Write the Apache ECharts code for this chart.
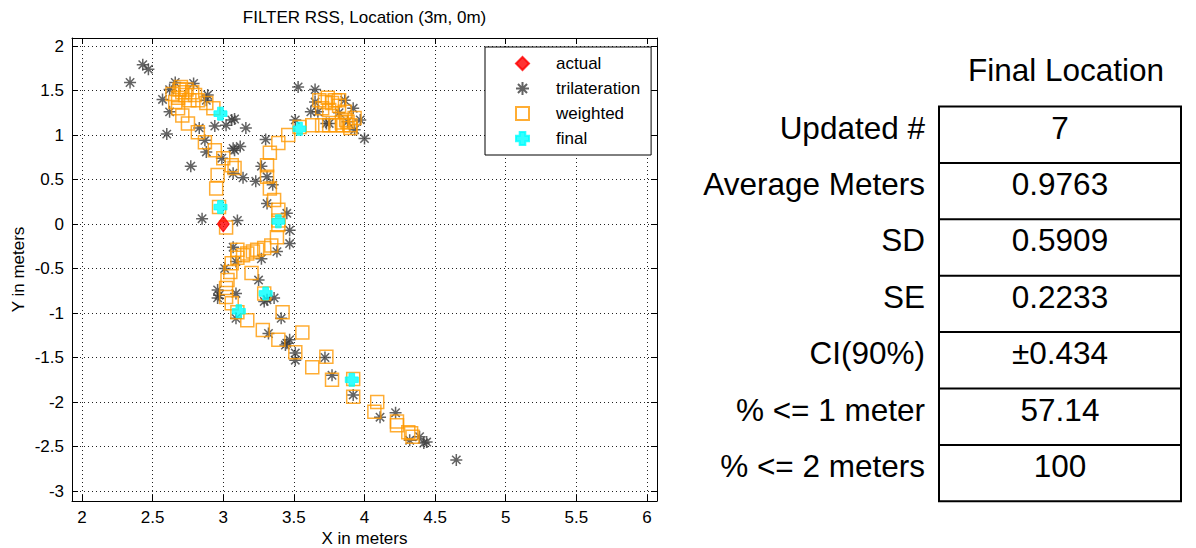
<!DOCTYPE html>
<html><head><meta charset="utf-8">
<script src="https://cdn.jsdelivr.net/npm/echarts@6/dist/echarts.min.js"></script>
<style>html,body{margin:0;padding:0;background:#fff}#c{width:1196px;height:548px}</style>
</head><body><div id="c"></div>
<script>
// ---------- data (meters) ----------
const xTicks = [2, 2.5, 3, 3.5, 4, 4.5, 5, 5.5, 6];
const yTicks = [-3, -2.5, -2, -1.5, -1, -0.5, 0, 0.5, 1, 1.5, 2];
const seriesNames = ['actual', 'trilateration', 'weighted', 'final'];
const actual = [[3, 0]];
const trilateration = [
  [2.43,1.79],[2.47,1.74],[2.34,1.59],[2.66,1.59],[2.62,1.51],[2.57,1.40],[2.62,1.26],[2.60,1.01],
  [2.77,0.65],[2.79,1.58],[2.89,1.45],[2.88,1.39],[2.94,1.10],[3.02,1.11],[3.06,1.17],[3.08,1.18],
  [3.16,1.08],[2.83,1.08],[2.87,0.94],[2.88,0.81],[3.07,0.85],[3.12,0.87],[2.99,0.74],[3.07,0.57],
  [3.14,0.52],[3.23,0.48],[3.27,0.65],[3.30,0.95],[3.35,0.44],[3.51,1.17],[3.53,1.54],[3.65,1.51],
  [3.65,1.37],[3.62,1.26],[3.67,1.26],[3.73,1.13],[3.75,1.13],[3.86,1.39],[3.92,1.30],[3.97,1.17],
  [3.93,1.06],[4.00,0.96],[3.82,1.25],[3.88,1.15],[3.08,0.83],[3.31,0.53],[3.31,0.23],[3.45,0.12],
  [3.47,-0.07],[3.10,0.04],[2.85,0.06],[3.47,-0.22],[3.38,-0.31],[3.27,-0.39],[3.07,-0.26],[3.09,-0.42],
  [3.01,-0.50],[2.96,-0.74],[2.96,-0.83],[2.97,-0.80],[3.09,-0.78],[3.25,-0.63],[3.36,-0.83],[3.31,-0.85],
  [3.09,-1.06],[3.41,-1.06],[3.32,-1.23],[3.45,-1.34],[3.51,-1.45],[3.29,-0.87],[3.47,-1.30],[3.44,-1.36],
  [3.51,-1.53],[3.72,-1.50],[3.77,-1.70],[3.92,-1.92],[4.11,-2.17],[4.22,-2.12],[4.32,-2.43],[4.39,-2.39],
  [4.42,-2.46],[4.44,-2.45],[4.65,-2.65]
];
const weighted = [
  [2.69,1.51],[2.74,1.51],[2.78,1.48],[2.73,1.45],[2.68,1.42],[2.76,1.39],[2.82,1.39],[2.68,1.30],
  [2.88,1.36],[2.93,1.30],[2.71,1.22],[2.75,1.13],[2.82,1.03],[2.87,0.92],[2.94,0.83],[3.00,0.74],
  [3.06,0.66],[3.08,0.63],[2.96,0.55],[2.95,0.40],[2.97,0.19],[2.66,1.37],[2.71,1.48],[2.80,1.45],
  [2.64,1.46],[2.70,1.54],
  [3.63,1.11],[3.54,1.09],[3.46,1.00],[3.39,0.91],[3.33,0.80],[3.31,0.66],[3.31,0.53],[3.33,0.40],
  [3.36,0.27],[3.39,0.16],[3.39,0.04],[3.39,-0.01],[3.38,-0.15],
  [3.70,1.11],[3.75,1.11],[3.80,1.11],[3.85,1.11],[3.90,1.11],[3.87,1.17],[3.93,1.19],[3.86,1.26],
  [3.82,1.33],[3.77,1.36],[3.72,1.37],[3.68,1.39],[3.74,1.42],[3.79,1.39],[3.82,1.39],[3.75,1.28],
  [3.70,1.30],[3.88,1.15],[3.90,1.08],[3.84,1.14],
  [3.34,-0.24],[3.29,-0.27],[3.24,-0.29],[3.21,-0.31],[3.17,-0.33],[3.14,-0.35],[3.10,-0.29],[3.10,-0.38],
  [3.06,-0.44],[3.05,-0.54],[3.03,-0.63],[3.02,-0.72],[3.02,-0.82],[3.06,-0.89],[3.10,-0.99],[3.17,-1.08],
  [3.28,-1.19],[3.39,-1.30],[3.51,-1.44],[3.20,-0.55],[3.29,-0.78],[3.42,-0.99],[3.56,-1.22],[3.63,-1.61],
  [3.73,-1.49],[3.77,-1.75],[3.92,-1.74],[3.92,-1.94],[4.09,-2.00],[4.07,-2.11],[4.23,-2.22],[4.23,-2.26],
  [4.31,-2.34],[4.33,-2.35],[4.34,-2.39],[3.02,-0.04]
];
const finalLoc = [[2.98,1.24],[3.54,1.07],[3.39,0.03],[3.30,-0.78],[3.11,-0.98],[3.91,-1.75],[2.98,0.19]];
const tableTitle = 'Final Location';
const tableLabels = ['Updated #', 'Average Meters', 'SD', 'SE', 'CI(90%)', '% <= 1 meter', '% <= 2 meters'];
const tableValues = ['7', '0.9763', '0.5909', '0.2233', '±0.434', '57.14', '100'];

// ---------- styling ----------
const FONT = '"Liberation Sans", Arial, Helvetica, sans-serif';
const AX_FS = 17;
const TB_FONT = '31.5px ' + FONT;
const ASTERISK = 'path://M0,-6L0,6M-6,0L6,0M-4.2,-4.2L4.2,4.2M-4.2,4.2L4.2,-4.2';
const FATPLUS = 'path://M-2.6,-6L2.6,-6L2.6,-2.6L6,-2.6L6,2.6L2.6,2.6L2.6,6L-2.6,6L-2.6,2.6L-6,2.6L-6,-2.6L-2.6,-2.6Z';

// table layout
const T = { left: 939, right: 1181, top: 106.5, rowH: 56.4, labelX: 925, valueX: 1060 };
const graphics = [];
graphics.push({ type: 'text', style: { text: tableTitle, x: 1066, y: 70, align: 'center', verticalAlign: 'middle', font: TB_FONT, fill: '#000' } });
graphics.push({ type: 'rect', shape: { x: T.left, y: T.top, width: T.right - T.left, height: T.rowH * tableLabels.length }, style: { fill: 'none', stroke: '#000', lineWidth: 2 } });
tableLabels.forEach((lab, i) => {
  const top = T.top + i * T.rowH;
  if (i > 0) graphics.push({ type: 'line', shape: { x1: T.left, y1: top, x2: T.right, y2: top }, style: { stroke: '#000', lineWidth: 2 } });
  graphics.push({ type: 'text', style: { text: lab, x: T.labelX, y: top + 21, align: 'right', verticalAlign: 'middle', font: TB_FONT, fill: '#000' } });
  graphics.push({ type: 'text', style: { text: tableValues[i], x: T.valueX, y: top + 21, align: 'center', verticalAlign: 'middle', font: TB_FONT, fill: '#000' } });
});

const X_MIN = 1.929, X_MAX = 6.071, Y_MIN = -3.112, Y_MAX = 2.09;
const lbl = { color: '#000', fontSize: AX_FS, fontFamily: FONT };
const gridLine = { show: true, lineStyle: { color: '#222', width: 1, type: [1, 3] } };
const axLine = { show: true, onZero: false, lineStyle: { color: '#000', width: 1 } };

const chart = echarts.init(document.getElementById('c'), null, { renderer: 'svg' });
chart.setOption({
  animation: false,
  backgroundColor: '#fff',
  title: { text: 'FILTER RSS, Location (3m, 0m)', left: 364.5, top: 9, padding: 0, textAlign: 'center',
    textStyle: { fontSize: AX_FS, fontWeight: 'normal', fontFamily: FONT, color: '#000' } },
  grid: { left: 72, top: 38, width: 585, height: 463, containLabel: false, outerBoundsMode: 'none' },
  xAxis: [
    { type: 'value', position: 'bottom', min: X_MIN, max: X_MAX, axisLine: axLine,
      axisTick: { show: true, inside: true, length: 6, customValues: xTicks, lineStyle: { color: '#000' } },
      axisLabel: { customValues: xTicks, margin: 8, ...lbl, formatter: v => String(v) },
      splitLine: gridLine,
      name: 'X in meters', nameLocation: 'middle', nameGap: 29, nameMoveOverlap: false, nameTextStyle: lbl },
    { type: 'value', position: 'top', min: X_MIN, max: X_MAX, axisLine: axLine,
      axisTick: { show: true, inside: true, length: 6, customValues: xTicks, lineStyle: { color: '#000' } },
      axisLabel: { show: false, customValues: xTicks }, splitLine: { show: false } }
  ],
  yAxis: [
    { type: 'value', position: 'left', min: Y_MIN, max: Y_MAX, axisLine: axLine,
      axisTick: { show: true, inside: true, length: 6, customValues: yTicks, lineStyle: { color: '#000' } },
      axisLabel: { customValues: yTicks, margin: 8, ...lbl, formatter: v => String(v) },
      splitLine: gridLine,
      name: 'Y in meters', nameLocation: 'middle', nameGap: 45, nameMoveOverlap: false, nameTextStyle: lbl },
    { type: 'value', position: 'right', min: Y_MIN, max: Y_MAX, axisLine: axLine,
      axisTick: { show: true, inside: true, length: 6, customValues: yTicks, lineStyle: { color: '#000' } },
      axisLabel: { show: false, customValues: yTicks }, splitLine: { show: false } }
  ],
  legend: {
    data: seriesNames, left: 485, top: 47, orient: 'vertical', selectedMode: false, z: 10,
    padding: [8, 11, 8, 30], itemWidth: 13, itemHeight: 13, itemGap: 8,
    backgroundColor: '#fff', borderColor: '#000', borderWidth: 1, borderRadius: 0,
    textStyle: { fontSize: AX_FS, fontFamily: FONT, color: '#000', padding: [0, 0, 0, 22] }
  },
  series: [
    { name: 'trilateration', type: 'scatter', data: trilateration, z: 2, symbol: ASTERISK, symbolSize: 12,
      itemStyle: { color: '#3c3c3c', borderColor: '#3c3c3c', borderWidth: 1.5 }, emphasis: { disabled: true } },
    { name: 'weighted', type: 'scatter', data: weighted, z: 3, symbol: 'rect', symbolSize: 13,
      itemStyle: { color: 'rgba(255,255,255,0)', borderColor: '#FF9900', borderWidth: 1.5 }, emphasis: { disabled: true } },
    { name: 'final', type: 'scatter', data: finalLoc, z: 4, symbol: FATPLUS, symbolSize: 13,
      itemStyle: { color: '#00FFFF', borderColor: '#00FFFF', borderWidth: 1 }, emphasis: { disabled: true } },
    { name: 'actual', type: 'scatter', data: actual, z: 5, symbol: 'diamond', symbolSize: [12, 16],
      itemStyle: { color: '#FF0000', borderColor: '#FF0000', borderWidth: 1 }, emphasis: { disabled: true } }
  ],
  graphic: graphics
});
</script>
</body></html>
